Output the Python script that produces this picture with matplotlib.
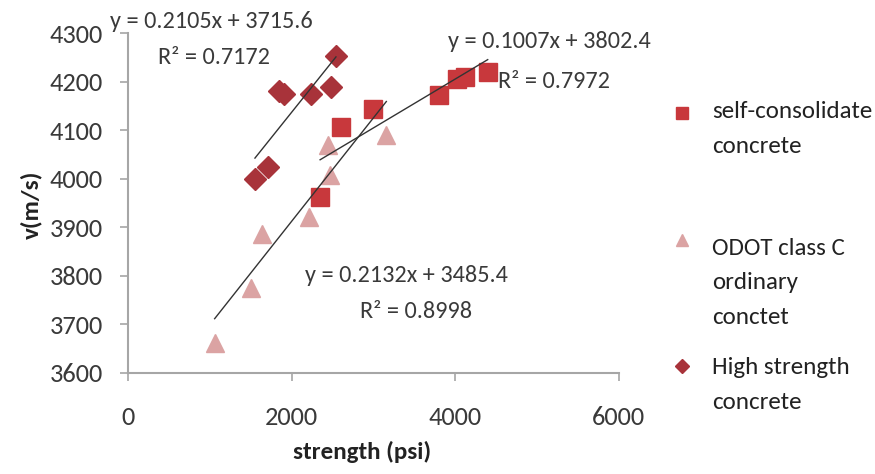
import numpy as np
import matplotlib.pyplot as plt
from matplotlib.lines import Line2D

plt.rcParams['font.family'] = ['Carlito', 'Lato', 'DejaVu Sans']

# self-consolidate concrete
scc_x = [2350, 2610, 3000, 3810, 4020, 4120, 4400]
scc_y = [3962, 4107, 4144, 4172, 4206, 4210, 4220]
# ODOT class C ordinary concrete
odot_x = [1060, 1510, 1640, 2210, 2450, 2470, 3160]
odot_y = [3662, 3775, 3885, 3922, 4070, 4007, 4090]
# high strength concrete
hsc_x = [1553, 1713, 1850, 1910, 2239, 2483, 2544]
hsc_y = [4000, 4025, 4180, 4175, 4175, 4190, 4254]

# linear fits (slope, intercept, r2)
fit_scc = (0.1007, 3802.4, 0.7972)
fit_odot = (0.2132, 3485.4, 0.8998)
fit_hsc = (0.2105, 3715.6, 0.7172)

legend_labels = ['self-consolidate\nconcrete', 'ODOT class C\nordinary\nconctet',
                 'High strength\nconcrete']

c_scc = '#C8383C'
c_odot = '#DBA3A3'
c_hsc = '#A8333A'
txt = '#3A3A3A'
W, H = 875, 474

fig = plt.figure(figsize=(8.75, 4.74), dpi=100)
ax = fig.add_axes([128 / W, 1 - 372.7 / H, 490.5 / W, 339.5 / H])

ax.plot(odot_x, odot_y, '^', ms=13, color=c_odot, mec=c_odot, zorder=3)
ax.plot(scc_x, scc_y, 's', ms=13.5, color=c_scc, mec=c_scc, zorder=3)
ax.plot(hsc_x, hsc_y, 'D', ms=11.5, color=c_hsc, mec=c_hsc, zorder=3)

for xs, (m, b, r2) in [(scc_x, fit_scc), (odot_x, fit_odot), (hsc_x, fit_hsc)]:
    xx = np.array([min(xs), max(xs)])
    ax.plot(xx, m * xx + b, color='#333333', lw=1, zorder=4)

ax.set_xlim(0, 6000)
ax.set_ylim(3600, 4300)
ax.set_xticks([0, 2000, 4000, 6000])
ax.set_yticks(range(3600, 4301, 100))
for s in ['top', 'right']:
    ax.spines[s].set_visible(False)
for s in ['left', 'bottom']:
    ax.spines[s].set_color('#A6A6A6')
    ax.spines[s].set_linewidth(1.5)
ax.tick_params(axis='y', length=6, width=1.2, color='#A6A6A6', pad=12, labelsize=19, labelcolor=txt)
ax.tick_params(axis='x', length=6, width=1.2, color='#A6A6A6', pad=18, labelsize=19, labelcolor=txt)
ax.set_xlabel('strength (psi)', fontsize=18, fontweight='bold', color='#222222')
ax.set_ylabel('v(m/s)', fontsize=18, fontweight='bold', color='#222222')
ax.xaxis.set_label_coords(0.477, -0.2)
ax.yaxis.set_label_coords(-0.175, 0.494)

# fit equations, left edge / centre in pixels
def eq(x, y, fit):
    m, b, r2 = fit
    fig.text(x / W, 1 - y / H, 'y = %gx + %g' % (m, b), fontsize=17.5, color=txt, va='center')

def rsq(x, y, fit):
    fig.text(x / W, 1 - y / H, 'R² = %g' % fit[2], fontsize=17.5, color=txt, va='center')

eq(110, 21, fit_hsc)
rsq(158, 58, fit_hsc)
eq(448, 42, fit_scc)
rsq(498, 81, fit_scc)
eq(305, 275, fit_odot)
rsq(360, 311, fit_odot)

# legend
leg = [('s', c_scc, 9, 113, 112), ('^', c_odot, 9, 240, 248), ('D', c_hsc, 7, 366, 368)]
for (mk, c, ms, my, ty), lab in zip(leg, legend_labels):
    fig.add_artist(Line2D([682 / W], [1 - my / H], marker=mk, ms=ms, color=c, mec=c,
                          transform=fig.transFigure))
    for i, line in enumerate(lab.split('\n')):
        fig.text(712 / W, 1 - (ty + 34.5 * i) / H, line, fontsize=18, color='#222222', va='center')

fig.savefig('out.png', dpi=100)
